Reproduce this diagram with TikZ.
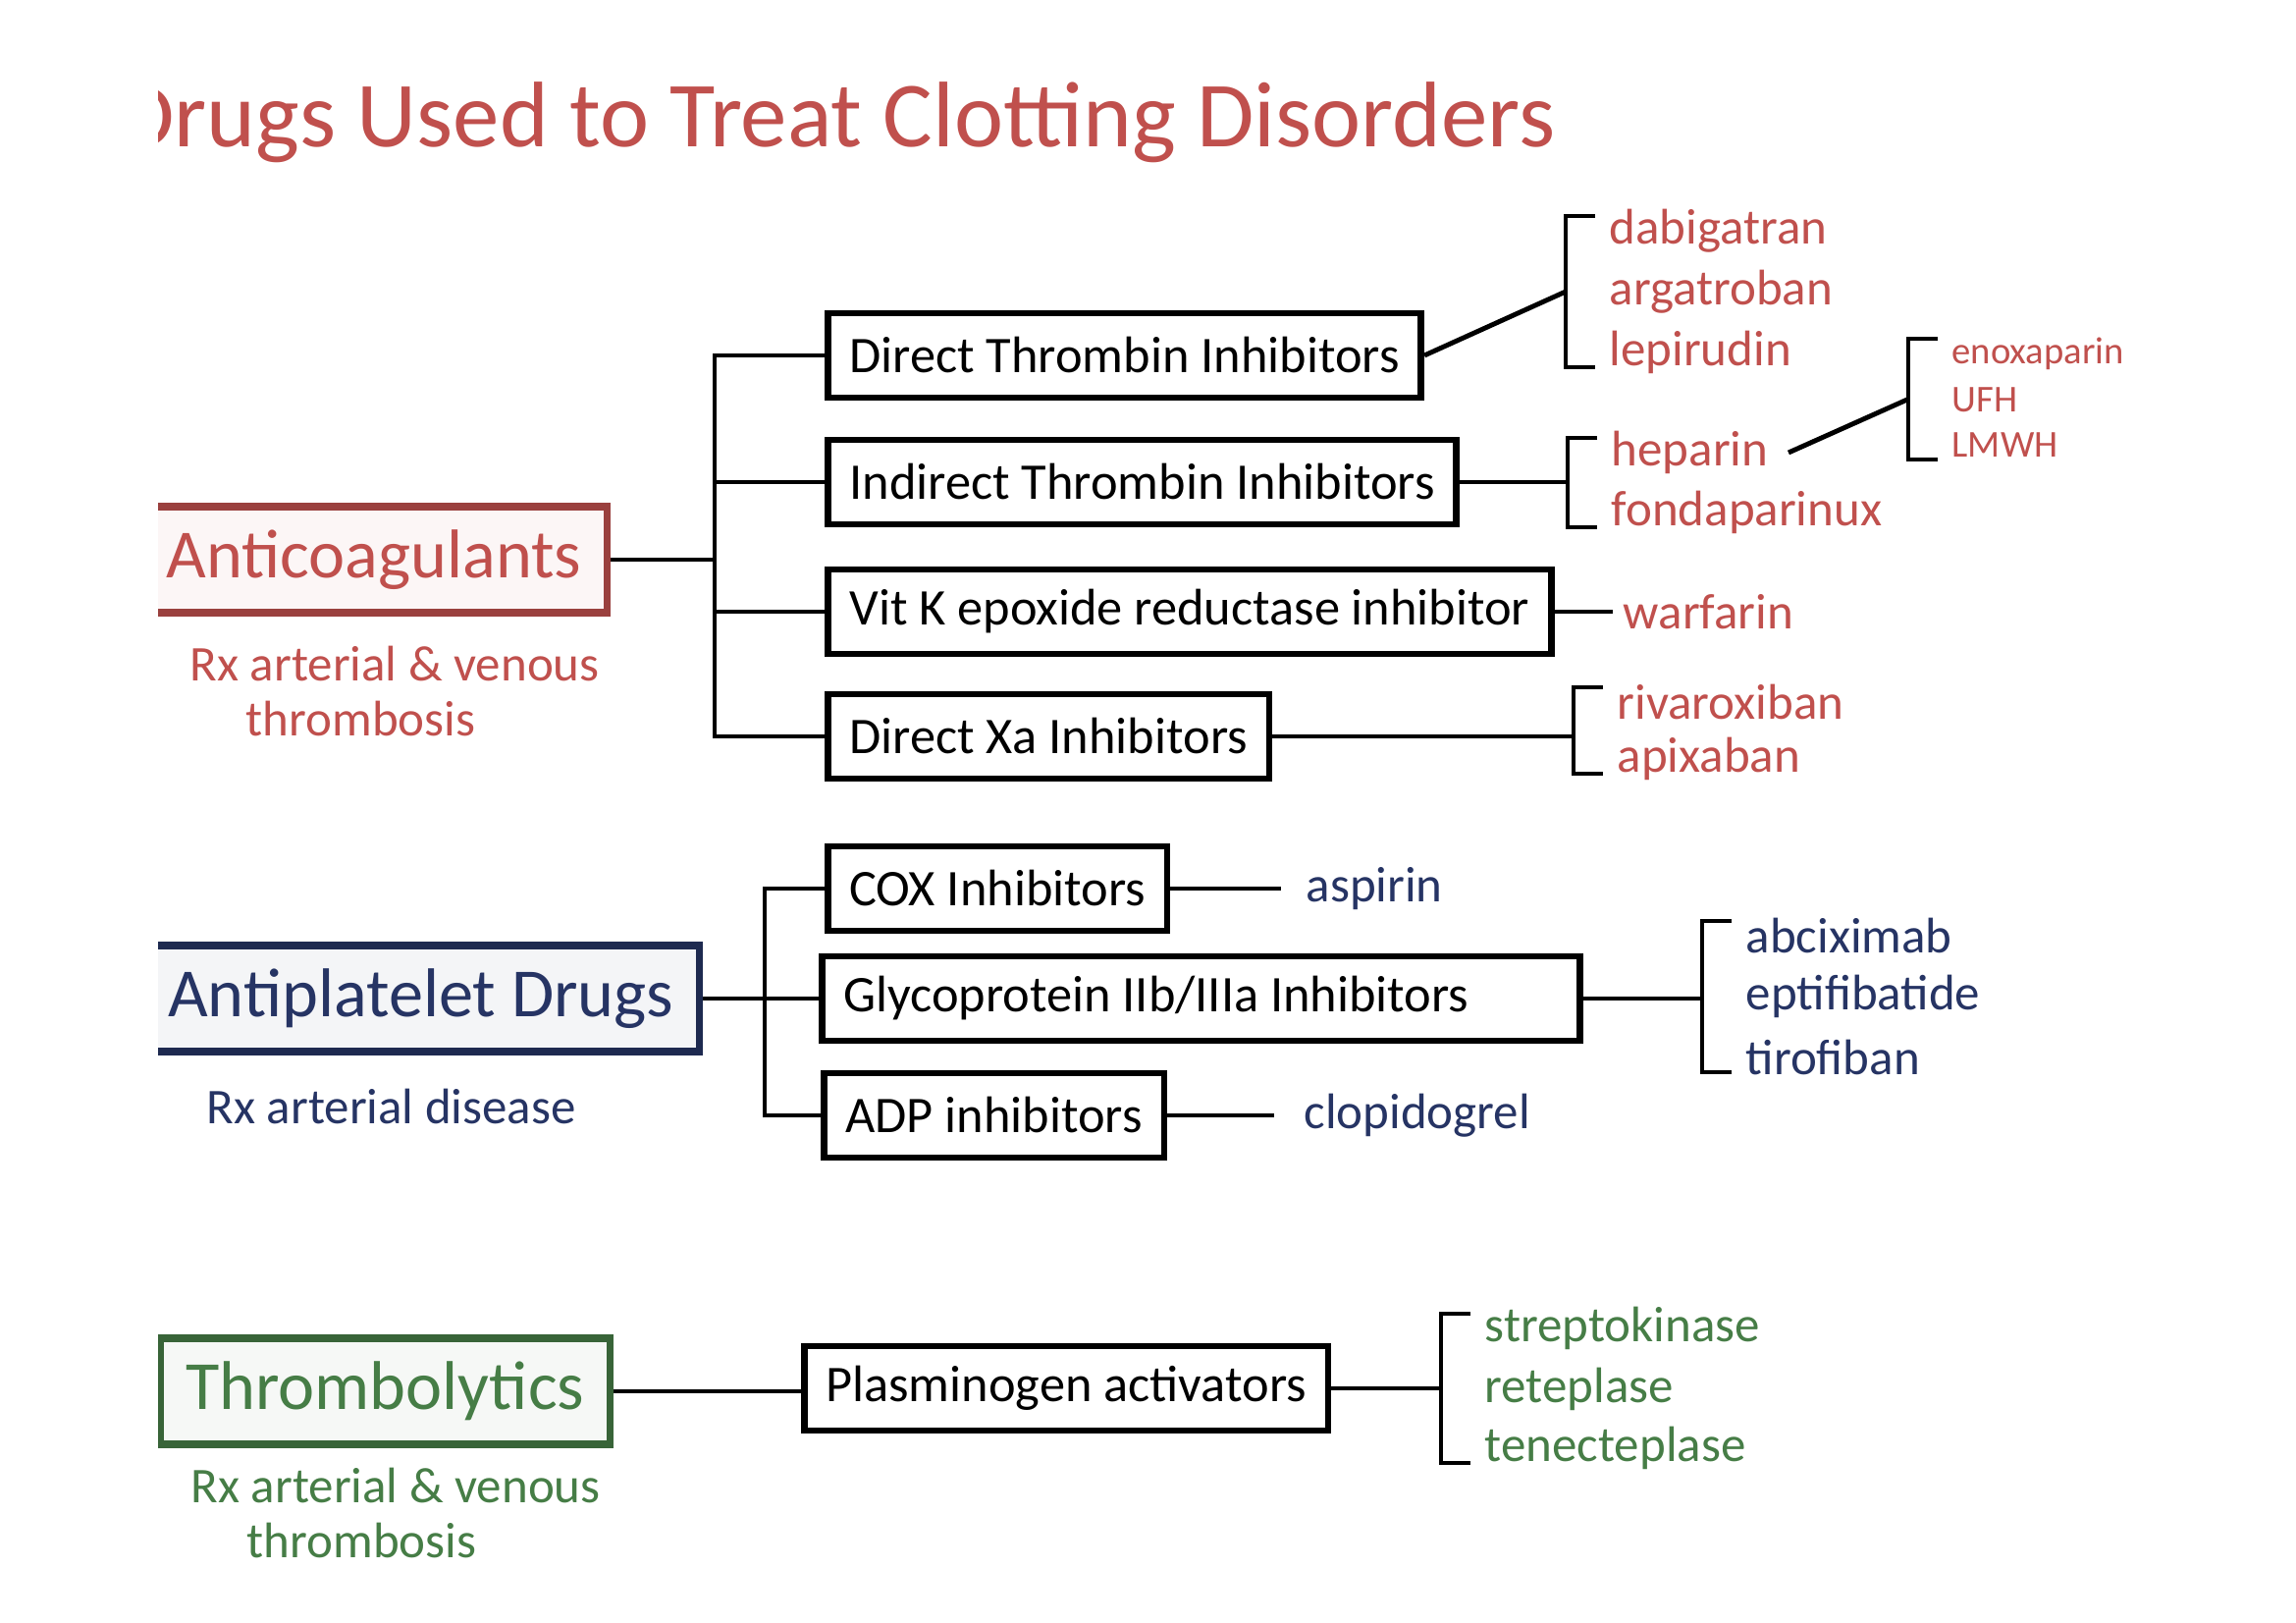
\documentclass[tikz,border=0pt]{standalone}
\usepackage{fontspec}
\setmainfont{Carlito}
\usepackage{tikz}
\usetikzlibrary{positioning,calc}

\definecolor{anticol}{RGB}{192,80,77}
\definecolor{apcol}{RGB}{38,52,100}
\definecolor{thcol}{RGB}{70,125,70}

% bracket in front of a drug list: first drug, last drug, name of its middle point
\newcommand{\drugbracket}[3]{%
  \draw[conn] ($(#1.west)+(-14,-15)$) -- ++(-30,0) |- ($(#2.west)+(-14,15)$);
  \path ($(#1.west)!0.5!(#2.west)$) ++(-44,0) coordinate (#3);}

\begin{document}
\begin{tikzpicture}[x=0.1mm,y=-0.1mm,
  conn/.style={line width=1.4pt},
  box/.style={draw,line width=1.9pt,anchor=west,minimum height=8.6mm,inner xsep=2.2mm,font=\fontsize{14.9}{17}\selectfont},
  cat/.style={draw=#1!80!black,fill=#1!5,text=#1,line width=2pt,anchor=east,minimum height=10.8mm,inner xsep=2.6mm,font=\fontsize{20}{24}\selectfont},
  note/.style={text=#1,align=left,inner sep=0pt,font=\fontsize{14.5}{16}\selectfont},
  drug/.style={text=#1,anchor=west,inner sep=0pt,font=\fontsize{14.5}{17}\selectfont}
]
  \useasboundingbox (0,0) rectangle (2339,1653);
  \begin{scope}
  \clip (161,0) rectangle (2339,1653);
  \node[anchor=base east,text=anticol,inner sep=0pt,font=\fontsize{27}{32}\selectfont] (title) at (1585,150) {Drugs Used to Treat Clotting Disorders};

  % anticoagulants
  \node[cat=anticol] (anti) at (622,570) {Anticoagulants};
  \node[note=anticol,anchor=north west] (antirx) at (193,657) {Rx arterial \& venous\\\hspace*{5.7mm}thrombosis};
  \node[box] (dti) at (840,362) {Direct Thrombin Inhibitors};
  \node[box] (iti) at (840,491) {Indirect Thrombin Inhibitors};
  \node[box] (vitk) at (840,623) {Vit K epoxide reductase inhibitor};
  \node[box] (dxa) at (840,750) {Direct Xa Inhibitors};
  \coordinate (ja) at (728,570);
  \draw[conn] (anti.east) -- (ja);
  \draw[conn] (dti.west) -| (ja) |- (dxa.west);
  \draw[conn] (ja |- iti.west) -- (iti.west);
  \draw[conn] (ja |- vitk.west) -- (vitk.west);

  \node[drug=anticol] (dab) at (1639,235) {dabigatran};
  \node[drug=anticol] (arg) at (1639,297) {argatroban};
  \node[drug=anticol] (lep) at (1639,359) {lepirudin};
  \drugbracket{dab}{lep}{dtib}
  \draw[conn] (dti.east) -- (dtib);

  \node[drug=anticol] (hep) at (1641,461) {heparin};
  \node[drug=anticol] (fon) at (1641,522) {fondaparinux};
  \drugbracket{hep}{fon}{itib}
  \draw[conn] (iti.east) -- (iti.east -| itib);

  \node[drug=anticol,font=\fontsize{11}{13}\selectfont] (enox) at (1988,360) {enoxaparin};
  \node[drug=anticol,font=\fontsize{11}{13}\selectfont] (ufh) at (1988,407) {UFH};
  \node[drug=anticol,font=\fontsize{11}{13}\selectfont] (lmwh) at (1988,453) {LMWH};
  \drugbracket{enox}{lmwh}{enob}
  \draw[conn] ([xshift=2mm]hep.east) -- (enob);

  \node[drug=anticol,inner xsep=1mm] (warf) at (1643,623) {warfarin};
  \draw[conn] (vitk.east) -- (vitk.east -| warf.west);

  \node[drug=anticol] (riv) at (1647,715) {rivaroxiban};
  \node[drug=anticol] (api) at (1647,773) {apixaban};
  \drugbracket{riv}{api}{dxab}
  \draw[conn] (dxa.east) -- (dxa.east -| dxab);

  % antiplatelet drugs
  \node[cat=apcol] (ap) at (716,1017) {Antiplatelet Drugs};
  \node[note=apcol,anchor=west] (aprx) at (210,1127) {Rx arterial disease};
  \node[box] (cox) at (840,905) {COX Inhibitors};
  \node[box,text width=72.8mm,align=flush left] (gp) at (834,1017) {Glycoprotein IIb/IIIa Inhibitors};
  \node[box] (adp) at (836,1136) {ADP inhibitors};
  \coordinate (jb) at (779,1017);
  \draw[conn] (ap.east) -- (gp.west);
  \draw[conn] (cox.west) -| (jb) |- (adp.west);

  \node[drug=apcol,inner xsep=2.5mm] (asp) at (1305,905) {aspirin};
  \draw[conn] (cox.east) -- (cox.east -| asp.west);
  \node[drug=apcol,inner xsep=3mm] (clo) at (1298,1136) {clopidogrel};
  \draw[conn] (adp.east) -- (adp.east -| clo.west);

  \node[drug=apcol] (abc) at (1778,953) {abciximab};
  \node[drug=apcol] (ept) at (1778,1015) {eptifibatide};
  \node[drug=apcol] (tir) at (1778,1077) {tirofiban};
  \drugbracket{abc}{tir}{gpb}
  \draw[conn] (gp.east) -- (gp.east -| gpb);

  % thrombolytics
  \node[cat=thcol] (thr) at (625,1417) {Thrombolytics};
  \node[note=thcol,anchor=north west] (thrrx) at (194,1494) {Rx arterial \& venous\\\hspace*{5.7mm}thrombosis};
  \node[box] (plas) at (816,1414) {Plasminogen activators};
  \draw[conn] (thr.east) -- (thr.east -| plas.west);

  \node[drug=thcol] (strep) at (1512,1353) {streptokinase};
  \node[drug=thcol] (ret) at (1512,1415) {reteplase};
  \node[drug=thcol] (ten) at (1512,1475) {tenecteplase};
  \drugbracket{strep}{ten}{plab}
  \draw[conn] (plas.east) -- (plas.east -| plab);
  \end{scope}
\end{tikzpicture}
\end{document}
